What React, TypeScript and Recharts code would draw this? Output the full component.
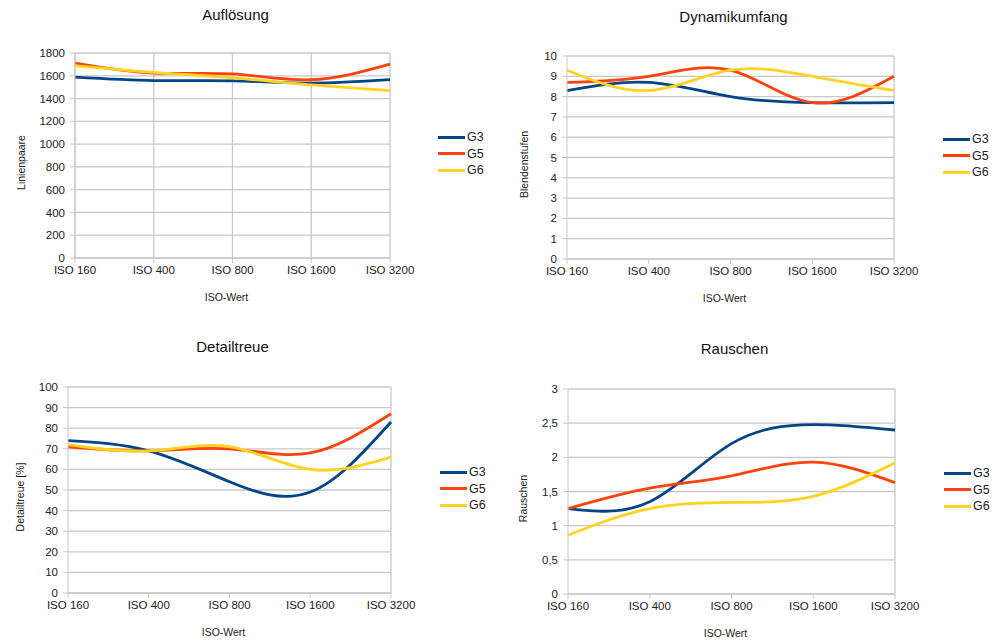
import { CartesianGrid, Legend, Line, LineChart, XAxis, YAxis } from "recharts";

const ISO_LABELS = ["ISO 160", "ISO 400", "ISO 800", "ISO 1600", "ISO 3200"];

const SERIES = [
  { key: "G3", color: "#004586" },
  { key: "G5", color: "#ff420e" },
  { key: "G6", color: "#ffd320" },
];

// Auflösung (Linienpaare)
const resG3 = [1588, 1558, 1556, 1536, 1566];
const resG5 = [1712, 1624, 1616, 1565, 1702];
const resG6 = [1690, 1630, 1582, 1520, 1470];

// Dynamikumfang (Blendenstufen)
const dynG3 = [8.3, 8.7, 8.0, 7.7, 7.7];
const dynG5 = [8.7, 9.0, 9.3, 7.7, 9.0];
const dynG6 = [9.3, 8.3, 9.3, 9.0, 8.3];

// Detailtreue [%]
const detG3 = [74, 69, 54, 49, 83];
const detG5 = [71, 69, 70, 68, 87];
const detG6 = [72, 69, 71, 60, 66];

// Rauschen
const noiseG3 = [1.25, 1.35, 2.2, 2.48, 2.4];
const noiseG5 = [1.25, 1.55, 1.73, 1.93, 1.63];
const noiseG6 = [0.86, 1.25, 1.34, 1.43, 1.92];

const FONT = "'Liberation Sans', Arial, Helvetica, sans-serif";
const GRID = "#c8c8c8";

function buildRows(g3: number[], g5: number[], g6: number[]) {
  return ISO_LABELS.map((iso, i) => ({ iso, G3: g3[i], G5: g5[i], G6: g6[i] }));
}

const commaFmt = (v: number) => String(v).replace(".", ",");

type PanelProps = {
  title: string;
  yLabel: string;
  data: Record<string, string | number>[];
  ticks: number[];
  domain: [number, number];
  left: number;
  top: number;
  plot: { left: number; right: number; top: number; bottom: number };
  yLabelX: number;
  titleY: number;
  legend: { x: number; y: number };
  vGrid: boolean;
  fmt?: (v: number) => string;
};

function LegendBox({ payload }: any) {
  return (
    <div style={{ fontFamily: FONT, fontSize: 12.5, color: "#222" }}>
      {(payload ?? []).map((p: any) => (
        <div key={p.value} style={{ display: "flex", alignItems: "center", height: 16.5 }}>
          <span style={{ display: "inline-block", width: 27, height: 3, background: p.color }} />
          <span style={{ marginLeft: 2 }}>{p.value}</span>
        </div>
      ))}
    </div>
  );
}

function Panel(props: PanelProps) {
  const W = 500;
  const H = 321;
  const xAxisH = 43;
  const marginLeft = props.yLabelX - 5;
  const yAxisW = props.plot.left - marginLeft;
  return (
    <div style={{ position: "absolute", left: props.left, top: props.top, width: W, height: H }}>
      <div
        style={{
          position: "absolute",
          left: 0,
          width: props.plot.left + props.plot.right + 6,
          top: props.titleY - 9,
          textAlign: "center",
          fontFamily: FONT,
          fontSize: 15,
          color: "#111",
          lineHeight: "18px",
        }}
      >
        {props.title}
      </div>
      <LineChart
        width={W}
        height={H}
        data={props.data}
        margin={{
          top: props.plot.top,
          right: W - props.plot.right,
          bottom: H - props.plot.bottom - xAxisH,
          left: marginLeft,
        }}
      >
        <CartesianGrid
          stroke={GRID}
          strokeWidth={1.3}
          vertical
          verticalCoordinatesGenerator={({ offset }: any) => {
            const l = offset.left;
            const w = offset.width;
            return props.vGrid ? [0, 1, 2, 3, 4].map((i) => l + (w * i) / 4) : [l + w];
          }}
        />
        <XAxis
          dataKey="iso"
          height={xAxisH}
          stroke={GRID}
          tickSize={5}
          tickMargin={3}
          tick={{ fill: "#222", fontSize: 11.5, fontFamily: FONT }}
          interval={0}
          label={{
            value: "ISO-Wert",
            position: "insideBottom",
            offset: 0,
            dx: -6,
            style: { fill: "#222", fontSize: 10.5, fontFamily: FONT },
          }}
        />
        <YAxis
          width={yAxisW}
          domain={props.domain}
          ticks={props.ticks}
          interval={0}
          stroke={GRID}
          tickSize={5}
          tickMargin={5}
          tickFormatter={props.fmt}
          tick={{ fill: "#222", fontSize: 11.5, fontFamily: FONT }}
          label={{
            value: props.yLabel,
            angle: -90,
            position: "insideLeft",
            offset: 5,
            dy: 7,
            style: { textAnchor: "middle", fill: "#222", fontSize: 10.5, fontFamily: FONT },
          }}
        />
        <Legend
          layout="vertical"
          align="center"
          verticalAlign="middle"
          content={<LegendBox />}
          wrapperStyle={{ left: props.legend.x, top: props.legend.y - 8, width: "auto" }}
        />
        {SERIES.map((s) => (
          <Line
            key={s.key}
            type="natural"
            dataKey={s.key}
            stroke={s.color}
            strokeWidth={2.8}
            dot={false}
            isAnimationActive={false}
          />
        ))}
      </LineChart>
    </div>
  );
}

export default function App() {
  return (
    <div style={{ position: "absolute", left: 0, top: 0, width: 1000, height: 642, background: "#fff" }}>
      <Panel
        title="Auflösung"
        yLabel="Linienpaare"
        data={buildRows(resG3, resG5, resG6)}
        ticks={[0, 200, 400, 600, 800, 1000, 1200, 1400, 1600, 1800]}
        domain={[0, 1800]}
        left={0}
        top={0}
        plot={{ left: 75, right: 390, top: 53, bottom: 258 }}
        yLabelX={21}
        titleY={15}
        legend={{ x: 438, y: 137 }}
        vGrid
      />
      <Panel
        title="Dynamikumfang"
        yLabel="Blendenstufen"
        data={buildRows(dynG3, dynG5, dynG6)}
        ticks={[0, 1, 2, 3, 4, 5, 6, 7, 8, 9, 10]}
        domain={[0, 10]}
        left={500}
        top={0}
        plot={{ left: 67, right: 394, top: 56, bottom: 259 }}
        yLabelX={24}
        titleY={17}
        legend={{ x: 443, y: 139 }}
        vGrid={false}
      />
      <Panel
        title="Detailtreue"
        yLabel="Detailtreue [%]"
        data={buildRows(detG3, detG5, detG6)}
        ticks={[0, 10, 20, 30, 40, 50, 60, 70, 80, 90, 100]}
        domain={[0, 100]}
        left={0}
        top={321}
        plot={{ left: 68, right: 391, top: 66, bottom: 272 }}
        yLabelX={20}
        titleY={26}
        legend={{ x: 440, y: 151 }}
        vGrid={false}
      />
      <Panel
        title="Rauschen"
        yLabel="Rauschen"
        data={buildRows(noiseG3, noiseG5, noiseG6)}
        ticks={[0, 0.5, 1, 1.5, 2, 2.5, 3]}
        domain={[0, 3]}
        left={500}
        top={321}
        plot={{ left: 68, right: 395, top: 68, bottom: 273 }}
        yLabelX={23}
        titleY={28}
        legend={{ x: 444, y: 152 }}
        vGrid={false}
        fmt={commaFmt}
      />
    </div>
  );
}
